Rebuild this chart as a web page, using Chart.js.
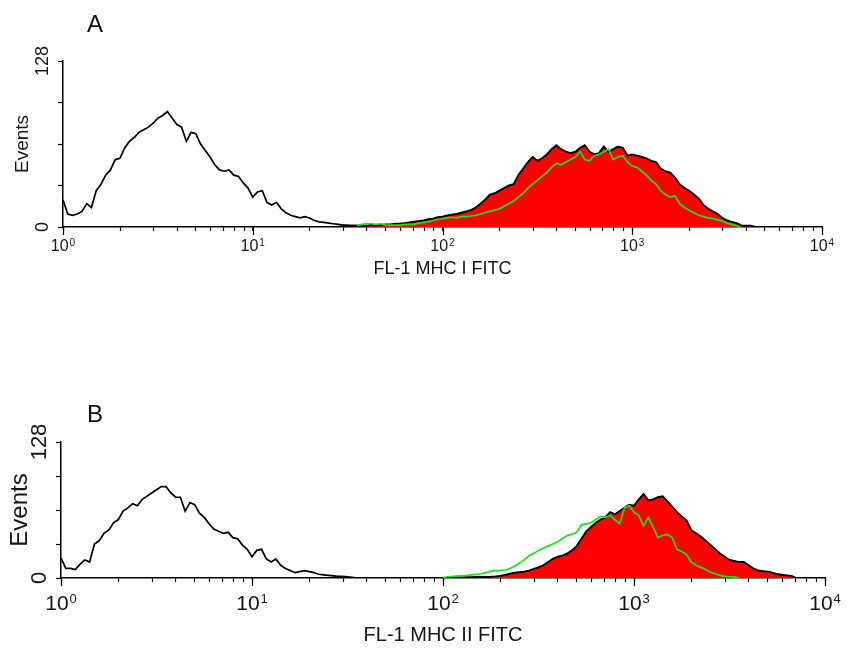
<!DOCTYPE html>
<html>
<head>
<meta charset="utf-8">
<script src="https://cdn.jsdelivr.net/npm/chart.js@4.4.1/dist/chart.umd.min.js"></script>
<style>
  body { margin: 0; background: #fff; width: 850px; height: 648px; overflow: hidden; position: relative; font-family: "Liberation Sans", Arial, sans-serif; }
  .panel { position: absolute; left: 0; width: 850px; height: 324px; }
  .tag { position: absolute; font-size: 24px; line-height: 24px; color: #111; }
</style>
</head>
<body>
<div class="panel" style="top:0"><canvas id="chartA" width="850" height="324"></canvas></div>
<div class="panel" style="top:324px"><canvas id="chartB" width="850" height="324"></canvas></div>
<div class="tag" style="left:87px;top:12px">A</div>
<div class="tag" style="left:87px;top:402px">B</div>
<script>
// channels: 40 per decade, 10^0 .. 10^4
const decadeBase = "10";
const decadeExponents = ["0", "1", "2", "3", "4"];
const yTickValues = [0, 32, 64, 96, 128];
const yLabelValues = [0, 128];

// Panel A (MHC I) - start channel + counts per channel
const aOpenStart = 0;
const aOpen = [21, 10, 9, 10, 12, 18, 15, 28, 33, 40,
  44, 52, 53, 61, 66, 69, 73, 75, 77, 80,
  84, 86, 89, 84, 79, 77, 66, 73, 72, 64,
  59, 54, 48, 44, 43, 44, 40, 39, 34, 30,
  23, 27, 28, 19, 17, 19, 14, 11, 9, 8,
  7, 8, 7, 5, 4, 3.5, 3, 2.5, 2, 1.5,
  1.5, 1, 1, 0.5, 0];
const aRedStart = 60;
const aRed = [0.5, 1, 1, 1.5, 1, 1.5, 1, 1.5, 2, 2,
  2.5, 2.5, 3, 3.5, 4, 4.5, 5, 6, 6.5, 7.5,
  8, 9, 9.5, 10, 11, 12, 13, 15, 18, 21,
  25, 26, 28, 30, 32, 33, 40, 45, 50, 54,
  51, 53, 56, 60, 63, 60, 58, 57, 58, 61,
  63, 58, 56, 57, 62, 58, 60, 62, 61, 55,
  56, 55, 54, 53, 51, 50, 45, 43, 42, 38,
  33, 30, 28, 25, 22, 17, 14, 12, 10, 7,
  5, 4, 3, 1, 1, 1, 0];
const aGreenStart = 62;
const aGreen = [1, 2, 2.5, 2.5, 2, 2.5, 1.5, 1.5,
  1.5, 1.5, 2, 2, 2, 3, 3.5, 4, 5, 6,
  6.5, 7, 7.5, 7, 8, 8, 8.5, 9, 10, 11,
  12, 13, 14, 16, 18, 20, 23, 26, 30, 33,
  36, 39, 42, 46, 49, 48, 50, 52, 54, 58,
  52, 51, 55, 56, 58, 60, 52, 54, 55, 50,
  47, 46, 43, 40, 36, 33, 28, 25, 23, 24,
  18, 15, 13, 11, 9, 8, 7, 6.5, 5.5, 4.5,
  3, 2, 1, 0];

// Panel B (MHC II)
const bOpenStart = 0;
const bOpen = [19, 9, 9, 8, 13, 17, 15, 32, 35, 42,
  45, 52, 55, 63, 66, 70, 68, 74, 77, 80,
  83, 86, 86, 80, 76, 76, 63, 71, 69, 61,
  57, 51, 46, 44, 42, 43, 38, 37, 31, 27,
  20, 26, 27, 18, 15, 18, 12, 9, 7, 5,
  6, 7, 6, 5, 3.5, 3, 2.5, 2, 1.5, 1.5,
  1, 0.5, 0];
const bRedStart = 82;
const bRed = [0.5, 0.5, 0.6, 0.8, 0.8, 1, 1, 1,
  1.2, 1.5, 2, 3, 4, 5, 5.5, 6, 7, 8.5,
  10, 12, 15, 18, 20, 21, 23, 26, 30, 37,
  44, 48, 52, 55, 57, 62, 60, 63, 66, 69,
  68, 74, 79, 73, 74, 76, 77, 72, 67, 62,
  58, 54, 45, 42, 39, 35, 31, 27, 23, 20,
  17, 16, 15, 15, 12, 9, 7, 6.5, 6, 5,
  3.5, 3, 2.5, 2, 0];
const bGreenStart = 80;
const bGreen = [0.5, 1.2, 1.5, 2, 2.2, 2.5, 3, 3.5, 4, 5,
  6.5, 7, 7, 7.5, 9, 11, 14, 17, 21, 23,
  26, 28, 30, 32, 34, 37, 40, 41, 43, 50,
  51, 52, 55, 58, 57, 59, 55, 51, 66, 68,
  62, 59, 49, 57, 48, 38, 40, 41, 38, 27,
  25, 22, 15, 12, 10, 8, 5.5, 4, 2.5, 1.5,
  1.2, 1, 0];

const PER_DECADE = 40;
const RED = "#ff0000";
const GREEN = "#14e614";
const BLACK = "#000000";
const TEXT = "#151515";
const FONT = '"Liberation Sans", Arial, sans-serif';

function toPoints(start, values) {
  return values.map((v, i) => ({ x: start + i, y: v }));
}

// decade + minor (2..9) tick positions on the channel axis
function logTicks() {
  const ticks = [];
  for (let d = 0; d < 4; d++) {
    for (let k = 1; k <= 9; k++) {
      ticks.push({ value: PER_DECADE * (d + Math.log10(k)) });
    }
  }
  ticks.push({ value: PER_DECADE * 4 });
  return ticks;
}

const flowAxes = {
  id: "flowAxes",
  afterDraw(chart, args, opts) {
    const { ctx, chartArea } = chart;
    const x = chart.scales.x;
    const y = chart.scales.y;
    ctx.save();

    // longer marks at the decades
    ctx.strokeStyle = BLACK;
    ctx.lineWidth = 1.2;
    ctx.beginPath();
    decadeExponents.forEach((_, d) => {
      const px = Math.round(x.getPixelForValue(d * PER_DECADE)) + 0.5;
      ctx.moveTo(px, chartArea.bottom);
      ctx.lineTo(px, chartArea.bottom + opts.majorTick);
    });
    ctx.stroke();

    // decade labels: 10 with raised exponent
    ctx.fillStyle = TEXT;
    ctx.textAlign = "left";
    ctx.textBaseline = "alphabetic";
    const f = opts.xFont;
    const ef = Math.round(f * 0.64);
    const baseY = chartArea.bottom + opts.xLabelDrop;
    decadeExponents.forEach((e, d) => {
      const px = x.getPixelForValue(d * PER_DECADE);
      ctx.font = f + "px " + FONT;
      const w1 = ctx.measureText(decadeBase).width;
      ctx.font = ef + "px " + FONT;
      const w2 = ctx.measureText(e).width;
      const left = px - (w1 + 1 + w2) / 2;
      ctx.font = f + "px " + FONT;
      ctx.fillText(decadeBase, left, baseY);
      ctx.font = ef + "px " + FONT;
      ctx.fillText(e, left + w1 + 1, baseY - f * 0.33);
    });

    // rotated y labels
    ctx.font = opts.yFont + "px " + FONT;
    ctx.textAlign = "center";
    ctx.textBaseline = "middle";
    yLabelValues.forEach((v) => {
      ctx.save();
      ctx.translate(opts.yLabelX, y.getPixelForValue(v));
      ctx.rotate(-Math.PI / 2);
      ctx.fillText(String(v), 0, 0);
      ctx.restore();
    });
    ctx.restore();
  },
};

function buildChart(id, p) {
  const ctx = document.getElementById(id).getContext("2d");
  return new Chart(ctx, {
    type: "line",
    data: {
      datasets: [
        { data: toPoints(p.greenStart, p.green), borderColor: GREEN, borderWidth: 1.7, fill: false },
        { data: toPoints(p.openStart, p.open), borderColor: BLACK, borderWidth: 1.7, fill: false },
        { data: toPoints(p.redStart, p.red), borderColor: BLACK, backgroundColor: RED, borderWidth: 1.9, fill: "origin" },
      ],
    },
    options: {
      responsive: false,
      animation: false,
      elements: { point: { radius: 0 }, line: { tension: 0 } },
      layout: { padding: { left: 0, top: p.top, right: p.right, bottom: 0 } },
      plugins: {
        legend: { display: false },
        tooltip: { enabled: false },
        flowAxes: { majorTick: 8, xFont: p.xFont, xLabelDrop: p.xLabelDrop, yFont: p.yFont, yLabelX: p.yLabelX },
      },
      scales: {
        x: {
          type: "linear",
          min: 0,
          max: PER_DECADE * 4,
          afterBuildTicks: (s) => { s.ticks = logTicks(); },
          afterFit: (s) => { s.height = p.xHeight; },
          ticks: { display: false, autoSkip: false },
          grid: { drawOnChartArea: false, tickLength: 4, tickColor: BLACK, tickWidth: 1.2 },
          border: { color: BLACK, width: 1.5 },
          title: {
            display: true,
            text: p.xTitle,
            color: TEXT,
            font: { family: FONT, size: p.xTitleFont },
            padding: { top: 0, bottom: p.xTitlePad },
          },
        },
        y: {
          min: 0,
          max: 128,
          afterBuildTicks: (s) => { s.ticks = yTickValues.map((v) => ({ value: v })); },
          afterFit: (s) => { s.width = p.yWidth; },
          ticks: { display: false },
          grid: { drawOnChartArea: false, tickLength: 5, tickColor: BLACK, tickWidth: 1.2 },
          border: { color: BLACK, width: 1.5 },
          title: {
            display: true,
            text: "Events",
            color: TEXT,
            font: { family: FONT, size: p.yTitleFont },
            padding: { top: p.yTitlePad, bottom: 0 },
          },
        },
      },
    },
    plugins: [flowAxes],
  });
}

buildChart("chartA", {
  open: aOpen, openStart: aOpenStart, red: aRed, redStart: aRedStart, green: aGreen, greenStart: aGreenStart,
  top: 61, right: 28, yWidth: 63, xHeight: 97,
  xFont: 16, xLabelDrop: 24, xTitle: "FL-1 MHC I FITC", xTitleFont: 18, xTitlePad: 44,
  yTitleFont: 19, yTitlePad: 11, yFont: 18, yLabelX: 43,
});

buildChart("chartB", {
  open: bOpen, openStart: bOpenStart, red: bRed, redStart: bRedStart, green: bGreen, greenStart: bGreenStart,
  top: 118, right: 25, yWidth: 61, xHeight: 70,
  xFont: 21, xLabelDrop: 32, xTitle: "FL-1 MHC II FITC", xTitleFont: 20, xTitlePad: 1,
  yTitleFont: 24, yTitlePad: 6, yFont: 22, yLabelX: 40,
});
</script>
</body>
</html>
